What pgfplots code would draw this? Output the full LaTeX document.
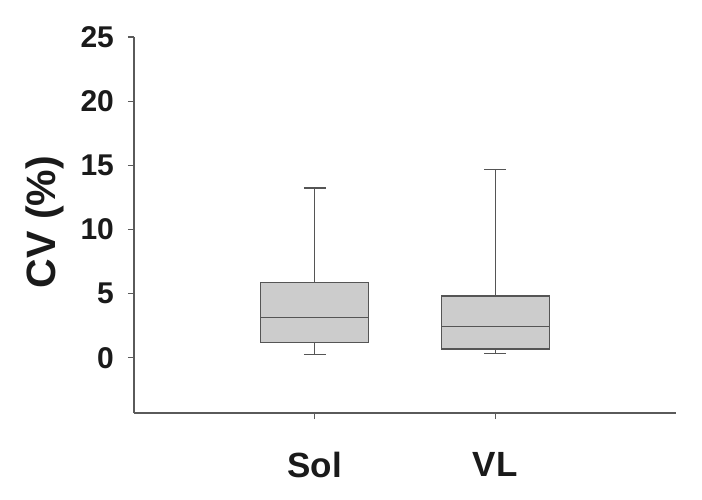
\documentclass[border=0pt]{standalone}
\usepackage{pgfplots}
\pgfplotsset{compat=1.18}
\usepgfplotslibrary{statistics}
\usepackage{fontspec}
\setmainfont{Liberation Sans}

\definecolor{boxfill}{RGB}{204,204,204}
\definecolor{boxedge}{RGB}{85,85,85}
\definecolor{axisgray}{RGB}{90,90,90}
\definecolor{txt}{RGB}{26,26,26}

\begin{document}
\begin{tikzpicture}
\useasboundingbox (-67pt,-43pt) rectangle (284pt,206.5pt);
\begin{axis}[
    at={(0,0)}, anchor=south west,
    scale only axis,
    width=271pt, height=188pt,
    xmin=0, xmax=3,
    ymin=-4.3, ymax=25,
    axis x line*=bottom, axis y line*=left,
    axis line style={axisgray, line width=0.6pt},
    xtick={1,2}, xticklabels={Sol,VL},
    ytick={0,5,...,25},
    tick align=outside,
    major tick length=3pt,
    tick style={axisgray, line width=0.6pt},
    /pgf/number format/assume math mode=true,
    yticklabel style={font=\bfseries\fontsize{15}{18}\selectfont, text=txt, xshift=-3.5pt},
    xticklabel style={font=\bfseries\fontsize{17.5}{20}\selectfont, text=txt, yshift=-13pt},
    ylabel={CV (\%)},
    ylabel style={font=\bfseries\fontsize{20.5}{23}\selectfont, text=txt,
        at={(axis description cs:-0.164,0.508)}, anchor=center},
    boxplot/draw direction=y,
    boxplot/box extend=0.6,
    boxplot/whisker extend=0.12,
]
% Sol
\addplot[draw=boxedge, fill=boxfill, line width=0.6pt,
    boxplot prepared={draw position=1,
        lower whisker=0.23, lower quartile=1.22, median=3.17,
        upper quartile=5.84, upper whisker=13.24}]
    coordinates {};
% VL
\addplot[draw=boxedge, fill=boxfill, line width=0.6pt,
    boxplot prepared={draw position=2,
        lower whisker=0.34, lower quartile=0.68, median=2.47,
        upper quartile=4.81, upper whisker=14.70}]
    coordinates {};
\end{axis}
\end{tikzpicture}
\end{document}
